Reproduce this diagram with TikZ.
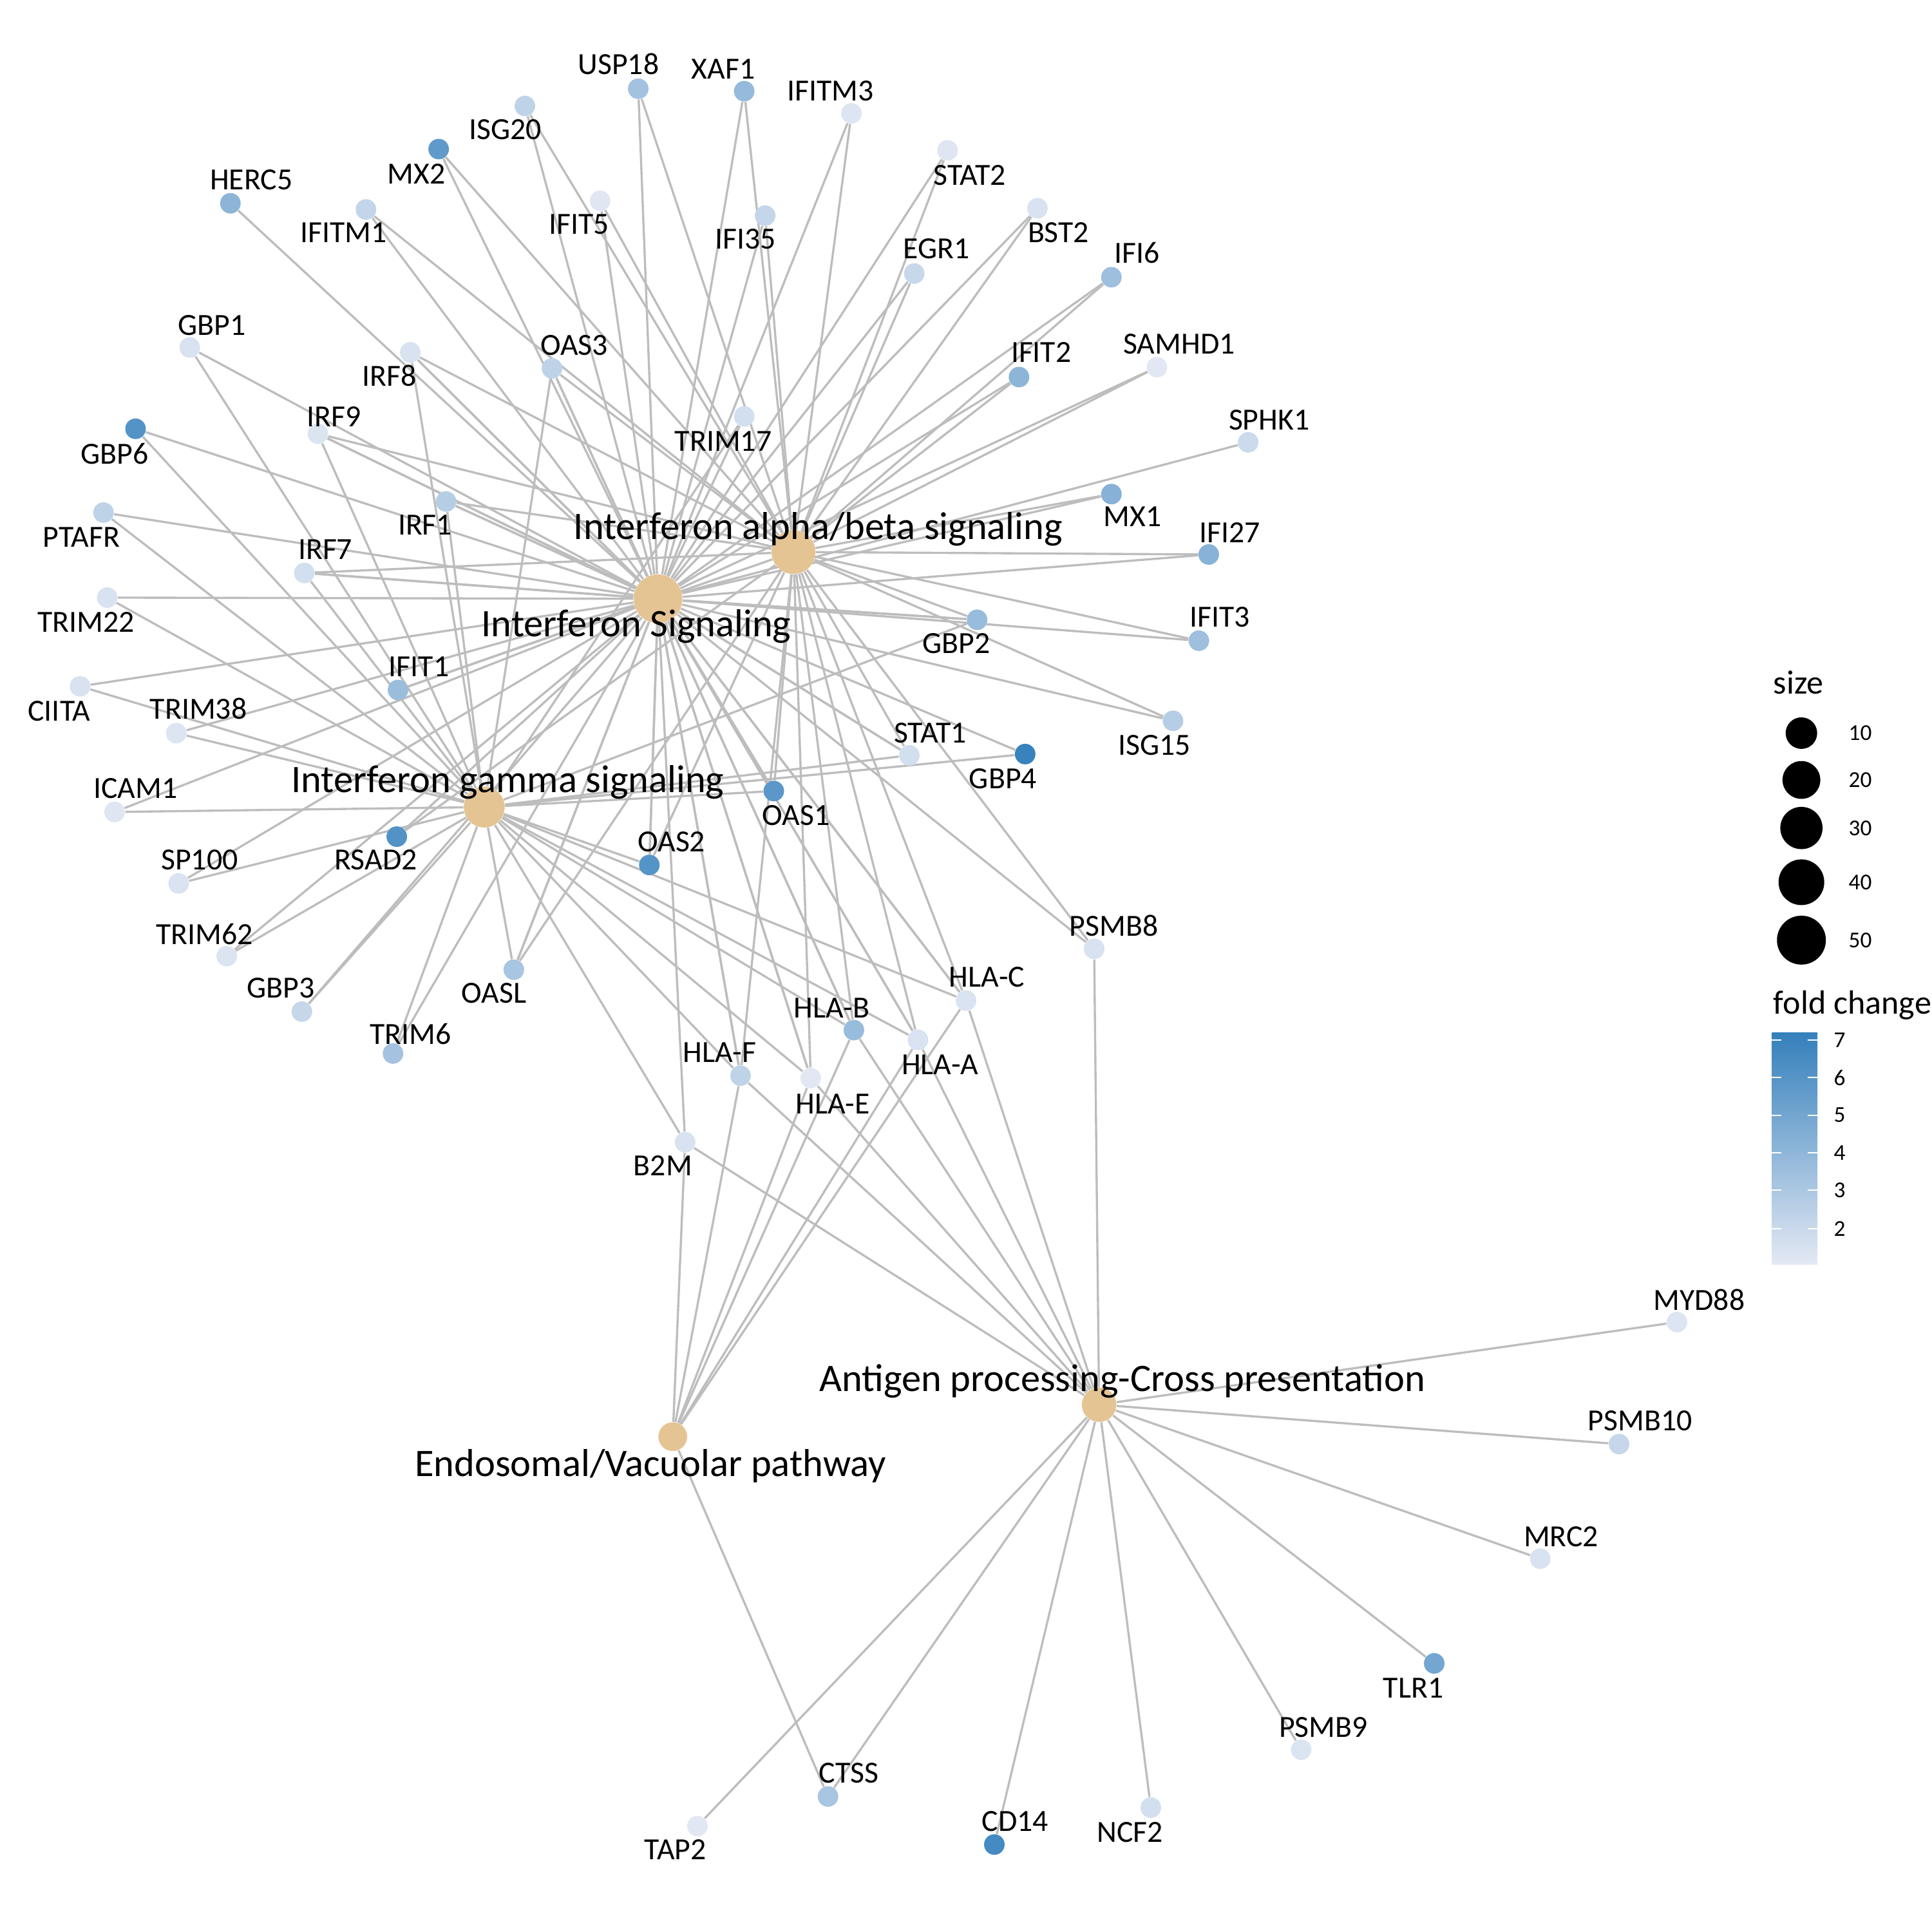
\documentclass[tikz,border=0pt]{standalone}
\usepackage{fontspec}
\setmainfont{Carlito}
\usetikzlibrary{backgrounds}

\definecolor{catfill}{HTML}{E5C494}
\definecolor{fclow}{HTML}{E4E9F4}
\definecolor{fchigh}{HTML}{3480BC}

\tikzset{
	gene/.style={circle, inner sep=0pt, minimum size=0.334cm, fill=fchigh!#1!fclow},
	pathway/.style={circle, inner sep=0pt, minimum size=#1, fill=catfill},
	genelabel/.style={inner sep=0pt, font=\fontsize{14.2}{16}\selectfont},
	pathlabel/.style={inner sep=0pt, anchor=base, font=\fontsize{18}{20}\selectfont},
	edge/.style={draw=gray!52, line width=1pt},
	legtitle/.style={inner sep=0pt, anchor=base west, font=\fontsize{15.5}{17}\selectfont},
	legtick/.style={inner sep=0pt, anchor=west, font=\fontsize{10.5}{12}\selectfont}
}

% name / x / y / fold change (percent of scale) / label x / label y
\def\genes{USP18/518/72/37/502/52, XAF1/604/74/45/587/56, IFITM3/691/92/4/674/74,
	ISG20/426/86/21/410/105, MX2/356/121/75/338/141, STAT2/769/122/3/787/142,
	HERC5/187/165/50/204/146, IFITM1/297/170/19/279/189, IFIT5/487/163/2/470/182,
	IFI35/621/175/18/605/194, BST2/842/169/7/859/189, EGR1/742/222/16/760/202,
	IFI6/902/225/40/923/205, GBP1/154/282/7/172/264, IRF8/333/286/7/316/305,
	OAS3/448/299/21/466/280, IFIT2/827/306/50/845/286, SAMHD1/939/298/1/957/279,
	TRIM17/604/338/10/587/358, GBP6/110/348/82/93/368, IRF9/258/352/5/271/338,
	SPHK1/1013/359/14/1030/341, IRF1/362/407/26/345/426, PTAFR/84/416/21/66/436,
	MX1/902/401/53/919/419, IFI27/981/450/52/998/432, IRF7/247/465/10/264/446,
	TRIM22/87/485/7/70/505, GBP2/793/503/43/776/522, IFIT3/973/520/40/990/501,
	IFIT1/323/560/42/340/541, CIITA/65/557/7/48/577, TRIM38/143/595/4/161/575,
	ISG15/952/585/26/937/605, STAT1/738/613/10/755/595, GBP4/832/612/98/814/632,
	ICAM1/93/659/3/110/640, OAS1/628/642/78/646/662, RSAD2/322/679/83/305/698,
	SP100/145/717/6/162/698, OAS2/527/702/81/545/683, TRIM62/184/776/5/166/758,
	PSMB8/888/770/7/904/751, OASL/417/787/34/401/806, GBP3/245/821/17/228/802,
	HLA-C/784/812/6/801/793, HLA-B/693/836/43/675/818, HLA-A/745/844/6/763/864,
	TRIM6/319/855/36/333/839, HLA-F/601/873/21/584/854, HLA-E/658/875/1/676/896,
	B2M/556/927/7/538/946, MYD88/1361/1073/4/1379/1055, PSMB10/1314/1172/17/1331/1153,
	MRC2/1250/1265/7/1267/1247, TLR1/1164/1350/64/1147/1370, PSMB9/1056/1420/5/1074/1402,
	CTSS/672/1458/34/689/1439, NCF2/934/1467/10/917/1487, TAP2/566/1482/1/548/1501,
	CD14/807/1497/90/824/1478}

% gene sets
\def\abgenes{USP18,XAF1,IFITM3,ISG20,MX2,STAT2,IFITM1,IFIT5,IFI35,BST2,EGR1,IFI6,IRF8,OAS3,
	IFIT2,SAMHD1,IRF9,IRF1,MX1,IFI27,IRF7,GBP2,IFIT3,IFIT1,ISG15,STAT1,OAS1,RSAD2,OAS2,
	PSMB8,OASL,HLA-C,HLA-B,HLA-A,HLA-F,HLA-E}
\def\ggenes{GBP1,IRF8,OAS3,TRIM17,GBP6,IRF9,IRF1,PTAFR,IRF7,TRIM22,GBP2,CIITA,TRIM38,STAT1,
	GBP4,ICAM1,OAS1,SP100,OAS2,TRIM62,OASL,GBP3,HLA-C,HLA-B,HLA-A,TRIM6,HLA-F,HLA-E,B2M}

\begin{document}
\begin{tikzpicture}[x=0.02cm, y=-0.02cm]
	\path[use as bounding box] (0,0) rectangle (1568,1568);
	% Pathways
	\node[pathway=0.792cm] (ifnsig) at (534,486) {};
	\node[pathway=0.714cm] (ifnab) at (644,448) {};
	\node[pathway=0.664cm] (ifng) at (393,655) {};
	\node[pathway=0.468cm] (endo) at (546,1166) {};
	\node[pathway=0.56cm] (antigen) at (892,1140) {};
	% Genes
	\foreach \g/\x/\y/\fc/\lx/\ly in \genes
		\node[gene=\fc] (\g) at (\x,\y) {};
	% Edges
	\begin{scope}[on background layer]
		\foreach \g in \abgenes {
			\draw[edge] (ifnab) -- (\g);
			\draw[edge] (ifnsig) -- (\g);
		}
		\foreach \g in \ggenes {
			\draw[edge] (ifng) -- (\g);
			\draw[edge] (ifnsig) -- (\g);
		}
		\foreach \g in {HERC5,SPHK1}
			\draw[edge] (ifnsig) -- (\g);
		\foreach \g in {HLA-C,HLA-B,HLA-A,HLA-F,HLA-E,B2M,CTSS}
			\draw[edge] (endo) -- (\g);
		\foreach \g in {HLA-C,HLA-B,HLA-A,HLA-F,HLA-E,B2M,PSMB8,MYD88,PSMB10,MRC2,TLR1,PSMB9,CTSS,NCF2,TAP2,CD14}
			\draw[edge] (antigen) -- (\g);
	\end{scope}
	% Labels
	\foreach \g/\x/\y/\fc/\lx/\ly in \genes
		\node[genelabel] (\g-l) at (\lx,\ly) {\g};
	\node[pathlabel] (ifnab-l) at (664,437.7) {Interferon alpha/beta signaling};
	\node[pathlabel] (ifnsig-l) at (516.4,516.6) {Interferon Signaling};
	\node[pathlabel] (ifng-l) at (412,643) {Interferon gamma signaling};
	\node[pathlabel] (antigen-l) at (910.8,1129) {Antigen processing-Cross presentation};
	\node[pathlabel] (endo-l) at (528,1198) {Endosomal/Vacuolar pathway};
	% Legend: size
	\node[legtitle] (size-t) at (1439,563) {size};
	\foreach \s/\d/\y in {10/25.6/595, 20/30.7/633, 30/34.3/672, 40/37.1/716, 50/39.7/763} {
		\node[circle, inner sep=0pt, fill=black, minimum size=\d*0.02cm] (sz\s) at (1462,\y) {};
		\node[legtick] (sz\s-l) at (1500,\y) {\s};
	}
	% Legend: fold change
	\node[legtitle] (fc-t) at (1439,823) {fold change};
	\shade[top color=fchigh, bottom color=fclow] (1438,838) rectangle (1475,1026);
	\foreach \v/\y in {7/844, 6/874.6, 5/905, 4/935.6, 3/966, 2/997} {
		\draw[white, line width=0.6pt] (1438,\y) -- (1445.8,\y) (1467.2,\y) -- (1475,\y);
		\node[legtick] (fc\v) at (1488,\y) {\v};
	}
\end{tikzpicture}
\end{document}
